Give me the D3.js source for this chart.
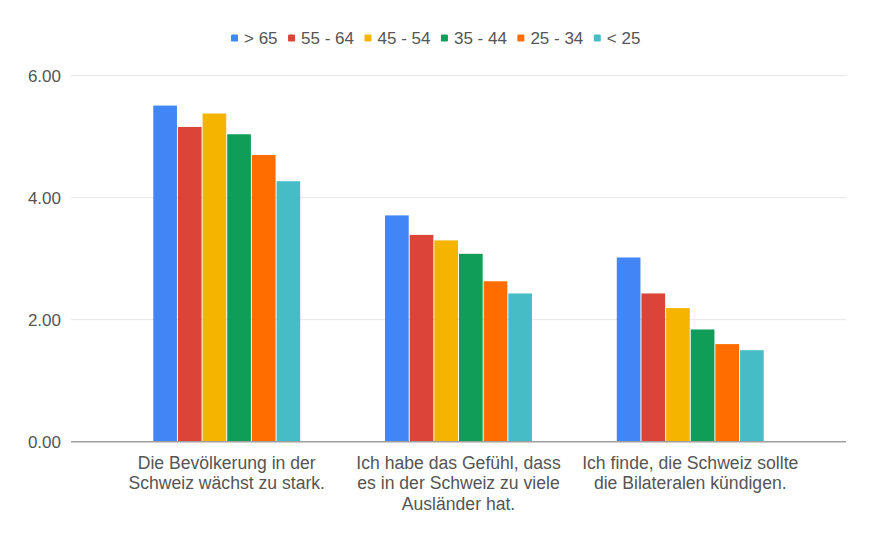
<!DOCTYPE html>
<html>
<head>
<meta charset="utf-8">
<script src="https://cdn.jsdelivr.net/npm/d3@7.9.0/dist/d3.min.js"></script>
<style>
  body { margin: 0; background: #fff; }
  svg { display: block; font-family: Arial, "Liberation Sans", sans-serif; }
</style>
</head>
<body>
<svg id="chart" width="873" height="541"></svg>
<script>
// DATA
const seriesNames = ['> 65', '55 - 64', '45 - 54', '35 - 44', '25 - 34', '< 25'];
const categories = [
  'Die Bevölkerung in der\nSchweiz wächst zu stark.',
  'Ich habe das Gefühl, dass\nes in der Schweiz zu viele\nAusländer hat.',
  'Ich finde, die Schweiz sollte\ndie Bilateralen kündigen.'
];
const over65 = [5.51, 3.71, 3.02];
const age55to64 = [5.16, 3.39, 2.43];
const age45to54 = [5.38, 3.30, 2.19];
const age35to44 = [5.04, 3.08, 1.84];
const age25to34 = [4.70, 2.63, 1.60];
const under25 = [4.27, 2.43, 1.50];
const yTicks = [0, 2, 4, 6];

const seriesValues = [over65, age55to64, age45to54, age35to44, age25to34, under25];
const colors = ['#4285f4', '#db4437', '#f4b400', '#0f9d58', '#ff6d01', '#46bdc6'];

const svg = d3.select('#chart');

// SCALES
const x0 = d3.scaleBand()
  .domain(categories)
  .range([71, 846])
  .paddingInner(0.366)
  .paddingOuter(0.355);

const x1 = d3.scaleBand()
  .domain(seriesNames)
  .range([0, x0.bandwidth()])
  .paddingInner(0.04);

const y = d3.scaleLinear()
  .domain([0, 6])
  .range([441.7, 75.7]);

// gridlines + y labels
const yAxis = svg.append('g');
yTicks.forEach(t => {
  if (t !== 0) {
    yAxis.append('line')
      .attr('x1', 71).attr('x2', 846)
      .attr('y1', y(t)).attr('y2', y(t))
      .attr('stroke', '#e6e6e6')
      .attr('stroke-width', 1);
  }
  yAxis.append('text')
    .attr('x', 61)
    .attr('y', y(t))
    .attr('dy', '0.36em')
    .attr('text-anchor', 'end')
    .attr('font-size', 17)
    .attr('fill', '#555')
    .text(d3.format('.2f')(t));
});

// bars
const groups = svg.append('g')
  .selectAll('g')
  .data(categories)
  .join('g')
  .attr('transform', d => `translate(${x0(d)},0)`);

groups.selectAll('rect')
  .data((c, ci) => seriesNames.map((s, si) => ({ s, si, v: seriesValues[si][ci] })))
  .join('rect')
  .attr('x', d => x1(d.s))
  .attr('y', d => y(d.v))
  .attr('width', x1.bandwidth())
  .attr('height', d => y(0) - y(d.v))
  .attr('fill', d => colors[d.si]);

// baseline
svg.append('line')
  .attr('x1', 71).attr('x2', 846)
  .attr('y1', y(0)).attr('y2', y(0))
  .attr('stroke', '#9e9e9e')
  .attr('stroke-width', 1.5);

// category labels
categories.forEach(c => {
  const t = svg.append('text')
    .attr('text-anchor', 'middle')
    .attr('font-size', 17.6)
    .attr('fill', '#555');
  c.split('\n').forEach((line, i) => {
    t.append('tspan')
      .attr('x', x0(c) + x0.bandwidth() / 2)
      .attr('y', 468.8 + i * 20.5)
      .text(line);
  });
});

// legend
const legend = svg.append('g');
let lx = 231;
seriesNames.forEach((name, i) => {
  legend.append('rect')
    .attr('x', lx).attr('y', 34.5)
    .attr('width', 7).attr('height', 7)
    .attr('rx', 1.2)
    .attr('fill', colors[i]);
  const txt = legend.append('text')
    .attr('x', lx + 13)
    .attr('y', 38)
    .attr('dy', '0.36em')
    .attr('font-size', 17)
    .attr('fill', '#555')
    .text(name);
  lx += 13 + txt.node().getComputedTextLength() + 10.5;
});
</script>
</body>
</html>
